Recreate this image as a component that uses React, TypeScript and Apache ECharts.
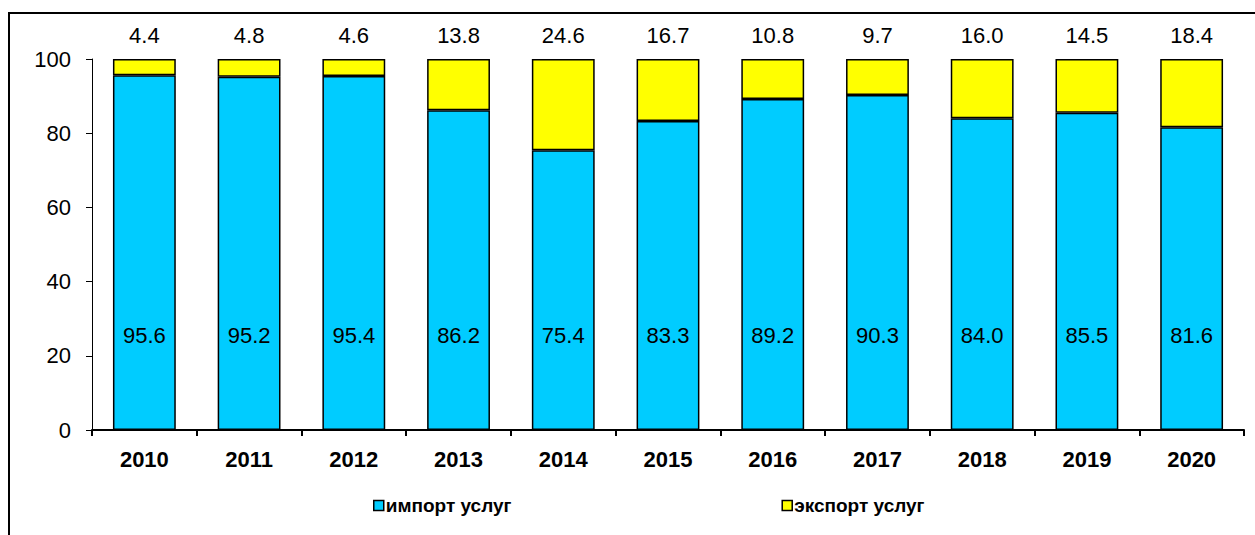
import React, { useEffect, useRef } from "react";
import * as echarts from "echarts";

const years = ["2010", "2011", "2012", "2013", "2014", "2015", "2016", "2017", "2018", "2019", "2020"];
const importValues = [95.6, 95.2, 95.4, 86.2, 75.4, 83.3, 89.2, 90.3, 84.0, 85.5, 81.6];
const exportValues = [4.4, 4.8, 4.6, 13.8, 24.6, 16.7, 10.8, 9.7, 16.0, 14.5, 18.4];
const yTicks = [0, 20, 40, 60, 80, 100];
const seriesNames = ["импорт услуг", "экспорт услуг"];

export default function App() {
  const ref = useRef<HTMLDivElement>(null);
  useEffect(() => {
    if (!ref.current) return;
    const chart = echarts.init(ref.current, null, { renderer: "svg" });
    chart.setOption({
      animation: false,
      textStyle: { fontFamily: "Arial, 'Liberation Sans', sans-serif" },
      graphic: [
        {
          type: "rect",
          shape: { x: 9, y: 13, width: 1400, height: 700 },
          style: { fill: "none", stroke: "#000", lineWidth: 2 },
          silent: true,
        },
      ],
      grid: { left: 92, right: 11, top: 59, bottom: 105, containLabel: false },
      legend: {
        bottom: 20,
        left: 373,
        padding: 0,
        itemGap: 270,
        itemWidth: 10,
        itemHeight: 10,
        icon: "rect",
        itemStyle: { borderColor: "#000", borderWidth: 1.5 },
        textStyle: { fontSize: 19, fontWeight: "bold", color: "#000", padding: [0, 0, 0, -3] },
        data: seriesNames,
      },
      xAxis: {
        type: "category",
        data: years,
        axisLine: { lineStyle: { color: "#000", width: 2 } },
        axisTick: { show: true, length: 6, lineStyle: { color: "#000", width: 2 } },
        axisLabel: { fontSize: 22, fontWeight: "bold", color: "#000", margin: 18 },
      },
      yAxis: {
        type: "value",
        min: yTicks[0],
        max: yTicks[yTicks.length - 1],
        interval: 20,
        axisLine: { show: true, lineStyle: { color: "#000", width: 1 } },
        axisTick: { show: true, length: 6, lineStyle: { color: "#000", width: 1 } },
        axisLabel: { fontSize: 22, color: "#000", margin: 21 },
        splitLine: { show: false },
      },
      series: [
        {
          name: seriesNames[0],
          type: "bar",
          stack: "total",
          data: importValues,
          barWidth: "60%",
          itemStyle: { color: "#00CCFF", borderColor: "#000", borderWidth: 1.5 },
          label: {
            show: true,
            position: "insideBottom",
            distance: 84,
            fontSize: 22,
            color: "#000",
            formatter: (p: any) => p.value.toFixed(1),
          },
        },
        {
          name: seriesNames[1],
          type: "bar",
          stack: "total",
          data: exportValues,
          barWidth: "60%",
          itemStyle: { color: "#FFFF00", borderColor: "#000", borderWidth: 1.5 },
          label: {
            show: true,
            position: "top",
            distance: 13,
            fontSize: 22,
            color: "#000",
            formatter: (p: any) => p.value.toFixed(1),
          },
        },
      ],
    });
    return () => chart.dispose();
  }, []);
  return <div ref={ref} style={{ width: 1255, height: 535, position: "absolute", left: 0, top: 0 }} />;
}
